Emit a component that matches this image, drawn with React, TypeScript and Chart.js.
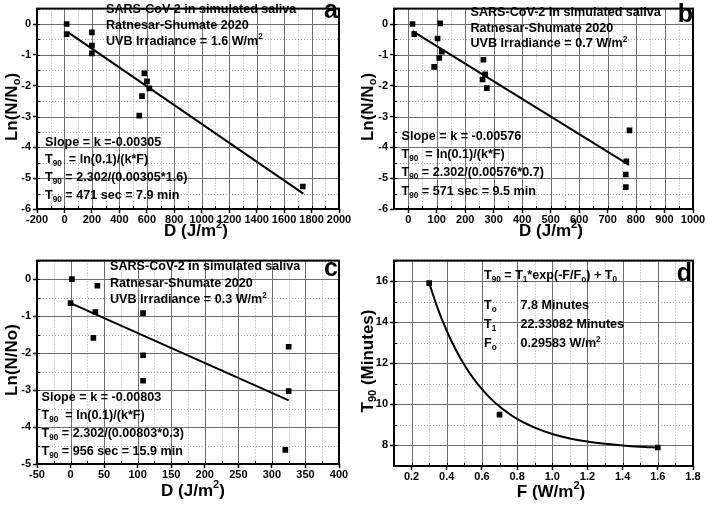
import React, { useEffect, useRef } from 'react';
import { Chart, registerables } from 'chart.js';

Chart.register(...registerables);

// ---------- Data ----------
// Panel a: UVB irradiance 1.6 W/m2
const aDose = [16, 16, 200, 200, 200, 582, 601, 618, 565, 545, 1736];
const aLn = [0, -0.33, -0.27, -0.7, -0.95, -1.6, -1.86, -2.09, -2.34, -2.97, -5.27];
const aFitDose = [30, 1740];
const aFitLn = [-0.28, -5.5];

// Panel b: UVB irradiance 0.7 W/m2
const bDose = [15, 21, 112, 103, 118, 109, 91, 264, 270, 261, 276, 777, 766, 764, 764];
const bLn = [0, -0.33, 0.02, -0.47, -0.9, -1.1, -1.39, -1.16, -1.63, -1.8, -2.08, -3.45, -4.45, -4.88, -5.29];
const bFitDose = [15, 775];
const bFitLn = [-0.23, -4.57];

// Panel c: UVB irradiance 0.3 W/m2
const cDose = [2, 0, 40, 37, 34, 108, 108, 108, 325, 325, 320];
const cLn = [0, -0.65, -0.18, -0.89, -1.59, -0.92, -2.06, -2.75, -1.83, -3.03, -4.62];
const cFitDose = [0, 325];
const cFitLn = [-0.65, -3.28];

// Panel d: T90 vs irradiance
const dIrr = [0.3, 0.7, 1.6];
const dT90 = [15.9, 9.5, 7.9];
const dCurveF = [0.3, 0.35, 0.4, 0.45, 0.5, 0.55, 0.6, 0.65, 0.7, 0.8, 0.9, 1.0, 1.1, 1.2, 1.3, 1.4, 1.5, 1.6];
const dCurveT = [15.9, 14.64, 13.58, 12.68, 11.92, 11.28, 10.74, 10.28, 9.9, 9.29, 8.87, 8.56, 8.34, 8.19, 8.08, 8.0, 7.94, 7.9];

// ---------- Helpers ----------
const FAMILY = '"Liberation Sans", Arial, Helvetica, sans-serif';
const MAJOR = '#6e6e6e';
const MINOR = '#a8a8a8';

type Seg = string | { t: string; sub?: boolean; sup?: boolean };
type TextItem = { x: number; y: number; segs: Seg[]; size: number; align?: 'left' | 'center' | 'right'; rot?: boolean };

const zip = (xs: number[], ys: number[]) => xs.map((x, i) => ({ x, y: ys[i] }));

function drawRich(ctx: CanvasRenderingContext2D, it: TextItem) {
  const font = (s: number) => `bold ${s}px ${FAMILY}`;
  let total = 0;
  const parts = it.segs.map((s) => {
    const o = typeof s === 'string' ? { t: s } : s;
    const sz = (o as any).sub || (o as any).sup ? it.size * 0.65 : it.size;
    ctx.font = font(sz);
    const w = ctx.measureText(o.t).width;
    total += w;
    return { ...(o as any), sz, w };
  });
  ctx.save();
  ctx.translate(it.x, it.y);
  if (it.rot) ctx.rotate(-Math.PI / 2);
  let x = it.align === 'center' ? -total / 2 : it.align === 'right' ? -total : 0;
  ctx.textBaseline = 'middle';
  ctx.textAlign = 'left';
  ctx.fillStyle = '#000';
  for (const p of parts) {
    ctx.font = font(p.sz);
    const dy = p.sub ? it.size * 0.32 : p.sup ? -it.size * 0.36 : 0;
    ctx.fillText(p.t, x, dy);
    x += p.w;
  }
  ctx.restore();
}

function tickValues(min: number, max: number, step: number) {
  const n = Math.round((max - min) / step);
  const out: number[] = [];
  for (let i = 0; i <= n; i++) out.push(Math.round((min + i * step) * 1e6) / 1e6);
  return out;
}

const isMul = (v: number, m: number) => Math.abs(v / m - Math.round(v / m)) < 1e-6;

type AxisSpec = { min: number; max: number; step: number; major: number; digits: number };

interface PanelSpec {
  left: number;
  top: number;
  width: number;
  height: number;
  area: { l: number; r: number; t: number; b: number };
  x: AxisSpec;
  y: AxisSpec;
  datasets: any[];
  texts: TextItem[];
}

function axisOpts(ax: AxisSpec, horizontal: boolean, fit: (s: any) => void) {
  return {
    type: 'linear',
    min: ax.min,
    max: ax.max,
    afterBuildTicks: (s: any) => {
      s.ticks = tickValues(ax.min, ax.max, ax.step).map((v) => ({ value: v }));
    },
    afterFit: fit,
    ticks: {
      autoSkip: false,
      maxRotation: 0,
      minRotation: 0,
      padding: horizontal ? 0 : 2,
      color: '#000',
      font: { family: FAMILY, size: 11, weight: 'bold' },
      callback: (v: number) => (isMul(v, ax.major) ? v.toFixed(ax.digits) : ''),
    },
    grid: {
      drawOnChartArea: false,
      drawTicks: true,
      tickLength: 4,
      tickWidth: 1.5,
      tickColor: (c: any) => (c.tick && isMul(c.tick.value, ax.major) ? '#000' : 'rgba(0,0,0,0)'),
    },
    border: { display: false },
  };
}

function Panel({ spec }: { spec: PanelSpec }) {
  const ref = useRef<HTMLCanvasElement | null>(null);
  useEffect(() => {
    if (!ref.current) return;
    const sp = spec;
    const framePlugin = {
      id: 'frame',
      beforeDatasetsDraw(chart: any) {
        const { ctx, chartArea: a } = chart;
        const xs = chart.scales.x;
        const ys = chart.scales.y;
        ctx.save();
        ctx.lineWidth = 1;
        // grid: minor dotted first, then major solid
        for (const pass of [false, true]) {
          ctx.strokeStyle = pass ? MAJOR : MINOR;
          ctx.setLineDash(pass ? [] : [1, 2]);
          ctx.beginPath();
          for (const v of tickValues(sp.x.min, sp.x.max, sp.x.step)) {
            if (isMul(v, sp.x.major) !== pass) continue;
            const px = Math.round(xs.getPixelForValue(v)) + 0.5;
            ctx.moveTo(px, a.top);
            ctx.lineTo(px, a.bottom);
          }
          for (const v of tickValues(sp.y.min, sp.y.max, sp.y.step)) {
            if (isMul(v, sp.y.major) !== pass) continue;
            const py = Math.round(ys.getPixelForValue(v)) + 0.5;
            ctx.moveTo(a.left, py);
            ctx.lineTo(a.right, py);
          }
          ctx.stroke();
        }
        ctx.setLineDash([]);
        // small inward ticks
        ctx.strokeStyle = '#000';
        ctx.beginPath();
        for (const v of tickValues(sp.x.min, sp.x.max, sp.x.step)) {
          const px = Math.round(xs.getPixelForValue(v)) + 0.5;
          ctx.moveTo(px, a.bottom);
          ctx.lineTo(px, a.bottom - 3);
        }
        for (const v of tickValues(sp.y.min, sp.y.max, sp.y.step)) {
          const py = Math.round(ys.getPixelForValue(v)) + 0.5;
          ctx.moveTo(a.left, py);
          ctx.lineTo(a.left + 3, py);
        }
        ctx.stroke();
        ctx.lineWidth = 2;
        ctx.strokeRect(a.left, a.top, a.right - a.left, a.bottom - a.top);
        ctx.restore();
      },
    };
    const textPlugin = {
      id: 'richText',
      afterDraw(chart: any) {
        for (const it of sp.texts) drawRich(chart.ctx, it);
      },
    };
    const chart = new Chart(ref.current, {
      type: 'scatter',
      data: { datasets: sp.datasets },
      options: {
        responsive: false,
        animation: false,
        devicePixelRatio: 1,
        layout: { padding: { left: 0, top: sp.area.t, right: sp.width - sp.area.r, bottom: 0 } },
        plugins: { legend: { display: false }, tooltip: { enabled: false } },
        scales: {
          x: axisOpts(sp.x, true, (s: any) => {
            s.height = sp.height - sp.area.b;
          }),
          y: axisOpts(sp.y, false, (s: any) => {
            s.width = sp.area.l;
          }),
        },
      } as any,
      plugins: [framePlugin, textPlugin],
    });
    return () => chart.destroy();
  }, [spec]);
  return (
    <div style={{ position: 'absolute', left: spec.left, top: spec.top, width: spec.width, height: spec.height }}>
      <canvas ref={ref} width={spec.width} height={spec.height} style={{ width: spec.width, height: spec.height, display: 'block' }} />
    </div>
  );
}

const pts = (xs: number[], ys: number[]) => ({
  data: zip(xs, ys),
  pointStyle: 'rect',
  pointRadius: 4,
  backgroundColor: '#000',
  borderColor: '#000',
  borderWidth: 0,
  showLine: false,
  order: 1,
});
const fit = (xs: number[], ys: number[], smooth = false) => ({
  data: zip(xs, ys),
  showLine: true,
  pointRadius: 0,
  borderColor: '#000',
  borderWidth: 2,
  backgroundColor: '#000',
  fill: false,
  cubicInterpolationMode: smooth ? 'monotone' : 'default',
  order: 2,
});

const T90 = (rest: string): Seg[] => ['T', { t: '90', sub: true }, rest];
const TS = 12.6;
const AX = 17;

const panels: PanelSpec[] = [
  {
    left: 0, top: 0, width: 354, height: 252,
    area: { l: 37, r: 339, t: 1, b: 209 },
    x: { min: -200, max: 2000, step: 100, major: 200, digits: 0 },
    y: { min: -6, max: 0.5, step: 0.5, major: 1, digits: 0 },
    datasets: [pts(aDose, aLn), fit(aFitDose, aFitLn)],
    texts: [
      { x: 106, y: 9.5, size: TS, segs: ['SARS-CoV-2 in simulated saliva'] },
      { x: 106, y: 25.5, size: TS, segs: ['Ratnesar-Shumate 2020'] },
      { x: 106, y: 41.5, size: TS, segs: ['UVB Irradiance = 1.6 W/m', { t: '2', sup: true }] },
      { x: 45, y: 143, size: TS, segs: ['Slope = k =-0.00305'] },
      { x: 45, y: 160, size: TS, segs: T90('  = ln(0.1)/(k*F)') },
      { x: 45, y: 177.5, size: TS, segs: T90(' = 2.302/(0.00305*1.6)') },
      { x: 45, y: 196, size: TS, segs: T90(' = 471 sec = 7.9 min') },
      { x: 338, y: 11, size: 25, align: 'right', segs: ['a'] },
      { x: 12, y: 107, size: AX, align: 'center', rot: true, segs: ['Ln(N/N', { t: 'o', sub: true }, ')'] },
      { x: 196, y: 231, size: AX, align: 'center', segs: ['D (J/m', { t: '2', sup: true }, ')'] },
    ],
  },
  {
    left: 354, top: 0, width: 354, height: 252,
    area: { l: 40, r: 339, t: 1, b: 209 },
    x: { min: -50, max: 1000, step: 50, major: 100, digits: 0 },
    y: { min: -6, max: 0.5, step: 0.5, major: 1, digits: 0 },
    datasets: [pts(bDose, bLn), fit(bFitDose, bFitLn)],
    texts: [
      { x: 116.5, y: 12.7, size: TS, segs: ['SARS-CoV-2 in simulated saliva'] },
      { x: 116.5, y: 28.7, size: TS, segs: ['Ratnesar-Shumate 2020'] },
      { x: 116.5, y: 44, size: TS, segs: ['UVB Irradiance = 0.7 W/m', { t: '2', sup: true }] },
      { x: 47.5, y: 137, size: TS, segs: ['Slope = k = -0.00576'] },
      { x: 47.5, y: 154.5, size: TS, segs: T90('  = ln(0.1)/(k*F)') },
      { x: 47.5, y: 173, size: TS, segs: T90(' = 2.302/(0.00576*0.7)') },
      { x: 47.5, y: 192, size: TS, segs: T90(' = 571 sec = 9.5 min') },
      { x: 339, y: 15, size: 25, align: 'right', segs: ['b'] },
      { x: 14, y: 107, size: AX, align: 'center', rot: true, segs: ['Ln(N/N', { t: 'o', sub: true }, ')'] },
      { x: 197, y: 231, size: AX, align: 'center', segs: ['D (J/m', { t: '2', sup: true }, ')'] },
    ],
  },
  {
    left: 0, top: 252, width: 354, height: 253,
    area: { l: 37, r: 339, t: 4, b: 212 },
    x: { min: -50, max: 400, step: 25, major: 50, digits: 0 },
    y: { min: -5, max: 0.5, step: 0.5, major: 1, digits: 0 },
    datasets: [pts(cDose, cLn), fit(cFitDose, cFitLn)],
    texts: [
      { x: 110, y: 15, size: TS, segs: ['SARS-CoV-2 in simulated saliva'] },
      { x: 110, y: 32, size: TS, segs: ['Ratnesar-Shumate 2020'] },
      { x: 110, y: 48, size: TS, segs: ['UVB Irradiance = 0.3 W/m', { t: '2', sup: true }] },
      { x: 41.5, y: 145.5, size: TS, segs: ['Slope = k = -0.00803'] },
      { x: 41.5, y: 163.5, size: TS, segs: T90('  = ln(0.1)/(k*F)') },
      { x: 41.5, y: 182, size: TS, segs: T90(' = 2.302/(0.00803*0.3)') },
      { x: 41.5, y: 200, size: TS, segs: T90(' = 956 sec = 15.9 min') },
      { x: 338, y: 17.5, size: 25, align: 'right', segs: ['c'] },
      { x: 12, y: 108, size: AX, align: 'center', rot: true, segs: ['Ln(N/No)'] },
      { x: 193, y: 239, size: AX, align: 'center', segs: ['D (J/m', { t: '2', sup: true }, ')'] },
    ],
  },
  {
    left: 354, top: 252, width: 354, height: 253,
    area: { l: 40, r: 339, t: 4, b: 214 },
    x: { min: 0.1, max: 1.8, step: 0.1, major: 0.2, digits: 1 },
    y: { min: 7, max: 17, step: 1, major: 2, digits: 0 },
    datasets: [pts(dIrr, dT90), fit(dCurveF, dCurveT, true)],
    texts: [
      {
        x: 130, y: 23.5, size: TS,
        segs: ['T', { t: '90', sub: true }, ' = T', { t: '1', sub: true }, '*exp(-F/F', { t: 'o', sub: true }, ') + T', { t: '0', sub: true }],
      },
      { x: 130, y: 53.3, size: TS, segs: ['T', { t: 'o', sub: true }] },
      { x: 166.5, y: 53.3, size: TS, segs: ['7.8 Minutes'] },
      { x: 130, y: 72.7, size: TS, segs: ['T', { t: '1', sub: true }] },
      { x: 166.5, y: 72.7, size: TS, segs: ['22.33082 Minutes'] },
      { x: 130, y: 92, size: TS, segs: ['F', { t: 'o', sub: true }] },
      { x: 166.5, y: 92, size: TS, segs: ['0.29583 W/m', { t: '2', sup: true }] },
      { x: 338, y: 22, size: 25, align: 'right', segs: ['d'] },
      { x: 14, y: 109, size: AX, align: 'center', rot: true, segs: ['T', { t: '90', sub: true }, ' (Minutes)'] },
      { x: 197, y: 240, size: AX, align: 'center', segs: ['F (W/m', { t: '2', sup: true }, ')'] },
    ],
  },
];

export default function App() {
  return (
    <div style={{ position: 'fixed', left: 0, top: 0, width: 708, height: 505, background: '#fff', overflow: 'hidden' }}>
      {panels.map((p, i) => (
        <Panel key={i} spec={p} />
      ))}
    </div>
  );
}
